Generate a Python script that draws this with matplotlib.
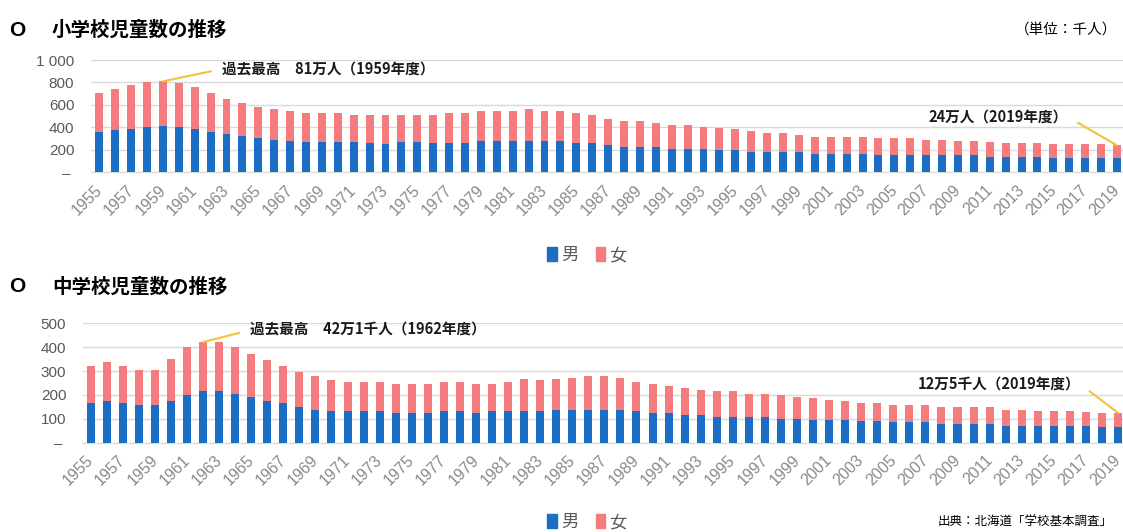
import matplotlib
matplotlib.use("Agg")
import matplotlib.pyplot as plt
from matplotlib.patches import Patch
import matplotlib.transforms as mtransforms
import numpy as np

plt.rcParams['font.family'] = ['Noto Sans CJK JP', 'DejaVu Sans']

# 年度
years = list(range(1955, 2020))

# 小学校児童数（千人）
elem_male = [355, 376, 389, 407, 414, 407, 389, 355, 337, 322,
             301, 286, 280, 268, 268, 268, 268, 262, 250, 268,
             268, 262, 262, 262, 280, 280, 280, 280, 280, 280,
             262, 262, 241, 226, 226, 226, 211, 211, 211, 196,
             196, 181, 181, 181, 181, 166, 166, 166, 166, 157,
             157, 151, 151, 151, 151, 151, 136, 136, 136, 136,
             130, 130, 130, 130, 123]
elem_female = [353, 368, 388, 393, 396, 388, 373, 353, 317, 295,
               280, 277, 262, 259, 259, 259, 244, 250, 262, 244,
               244, 250, 265, 265, 268, 268, 268, 283, 268, 262,
               265, 250, 232, 232, 232, 217, 211, 211, 196, 196,
               187, 189, 171, 165, 150, 150, 150, 150, 150, 144,
               144, 150, 135, 135, 129, 129, 135, 126, 126, 126,
               120, 120, 120, 120, 117]

# 中学校生徒数（千人）
jr_male = [166, 175, 166, 156, 156, 175, 199, 215, 215, 206,
           192, 175, 166, 149, 139, 132, 132, 132, 132, 124,
           124, 124, 131, 131, 124, 131, 131, 131, 131, 138,
           138, 138, 138, 138, 131, 124, 124, 117, 117, 107,
           107, 107, 107, 100, 100, 93, 93, 93, 89, 89,
           86, 86, 86, 79, 79, 79, 79, 72, 72, 68,
           68, 68, 68, 66, 64]
jr_female = [157, 162, 157, 148, 148, 174, 201, 206, 205, 193,
             180, 171, 157, 148, 141, 130, 123, 123, 123, 120,
             120, 120, 124, 124, 121, 114, 124, 134, 131, 127,
             135, 142, 142, 134, 124, 121, 114, 114, 105, 108,
             108, 99, 99, 99, 92, 96, 87, 80, 77, 77,
             73, 73, 73, 70, 70, 70, 70, 67, 67, 64,
             64, 64, 62, 60, 61]

series_labels = ['男', '女']
elem_yticks = [0, 200, 400, 600, 800, 1000]
elem_yticklabels = ['– ', '200', '400', '600', '800', '1 000']
jr_yticks = [0, 100, 200, 300, 400, 500]
jr_yticklabels = ['– ', '100', '200', '300', '400', '500']

BLUE = '#1c6ec4'
PINK = '#f47c7e'
GOLD = '#f2c23a'
GRID = '#d9d9d9'
TICK = '#595959'

W, H = 1123, 532
fig = plt.figure(figsize=(W / 100, H / 100), dpi=100)


def px_axes(left, top, right, bottom):
    return fig.add_axes([left / W, 1 - bottom / H, (right - left) / W, (bottom - top) / H])


def draw_panel(ax, male, female, yticks, yticklabels, xlim):
    x = np.arange(len(years))
    ax.bar(x, male, width=0.5, color=BLUE, zorder=3)
    ax.bar(x, female, width=0.5, bottom=male, color=PINK, zorder=3)
    ax.set_xlim(*xlim)
    ax.set_ylim(yticks[0], yticks[-1])
    ax.set_yticks(yticks)
    ax.set_yticklabels(yticklabels, fontfamily='Liberation Sans', fontsize=11, color=TICK)
    ax.yaxis.grid(True, color=GRID, lw=1, zorder=0)
    ax.set_xticks(x[::2])
    ax.set_xticklabels([str(y) for y in years[::2]], rotation=45, ha='right', va='top',
                       rotation_mode='anchor', fontfamily='Liberation Sans',
                       fontsize=11.5, color='#8a8a8a')
    for s in ['top', 'left', 'right']:
        ax.spines[s].set_visible(False)
    ax.spines['bottom'].set_color(GRID)
    ax.tick_params(axis='both', length=0)
    ax.tick_params(axis='y', pad=12)
    ax.tick_params(axis='x', pad=7)
    shift = mtransforms.ScaledTranslation(-5 / 100, 0, fig.dpi_scale_trans)
    for lab in ax.get_xticklabels():
        lab.set_transform(lab.get_transform() + shift)


# 小学校
ax1 = px_axes(91, 60, 1123, 172.3)
draw_panel(ax1, elem_male, elem_female, elem_yticks, elem_yticklabels, (-0.52, 64.38))

# 中学校
ax2 = px_axes(83, 323.3, 1123, 442.7)
draw_panel(ax2, jr_male, jr_female, jr_yticks, jr_yticklabels, (-0.48, 64.31))

# 見出し
for yc, title in ((30, '小学校児童数の推移'), (287, '中学校児童数の推移')):
    fig.text(9 / W, 1 - yc / H, 'O', fontsize=15, fontweight='bold', va='center', ha='left',
             fontfamily='Liberation Sans')
    fig.text(52 / W, 1 - yc / H, title, fontsize=14, fontweight='bold', va='center', ha='left')
fig.text(1117 / W, 1 - 30 / H, '（単位：千人）', fontsize=10.5, va='center', ha='right')
fig.text(1113 / W, 1 - 522 / H, '出典：北海道「学校基本調査」', fontsize=9, va='center', ha='right')

# 凡例
handles = [Patch(color=BLUE), Patch(color=PINK)]
for yc in (255, 522):
    fig.legend(handles, series_labels, loc='center', bbox_to_anchor=(587 / W, 1 - yc / H),
               ncol=2, frameon=False, handlelength=0.55, handleheight=0.8, handletextpad=0.25,
               columnspacing=1.0, prop={'size': 12.5}, labelcolor=TICK)


# 注記
def note(ax, idx, value, text, tx, ty, side):
    i = years.index(idx)
    ha = 'left' if side == 'left' else 'right'
    rel = (0, 0.5) if side == 'left' else (1, 0.5)
    ax.annotate(text, xy=(i, value), xycoords='data',
                xytext=(tx, H - ty), textcoords='figure pixels',
                ha=ha, va='center', fontsize=10.5, fontweight='bold', color='#1a1a1a',
                arrowprops=dict(arrowstyle='-', color=GOLD, lw=1.5, relpos=rel,
                                shrinkA=6, shrinkB=0), zorder=5)


i59 = years.index(1959)
note(ax1, 1959, elem_male[i59] + elem_female[i59], '過去最高　81万人（1959年度）', 222, 69, 'left')
i19 = years.index(2019)
note(ax1, 2019, elem_male[i19] + elem_female[i19], '24万人（2019年度）', 1068, 117, 'right')
i62 = years.index(1962)
note(ax2, 1962, jr_male[i62] + jr_female[i62], '過去最高　42万1千人（1962年度）', 250, 330, 'left')
note(ax2, 2019, jr_male[i19] + jr_female[i19], '12万5千人（2019年度）', 1080, 384, 'right')

fig.savefig('out.png', dpi=100)
